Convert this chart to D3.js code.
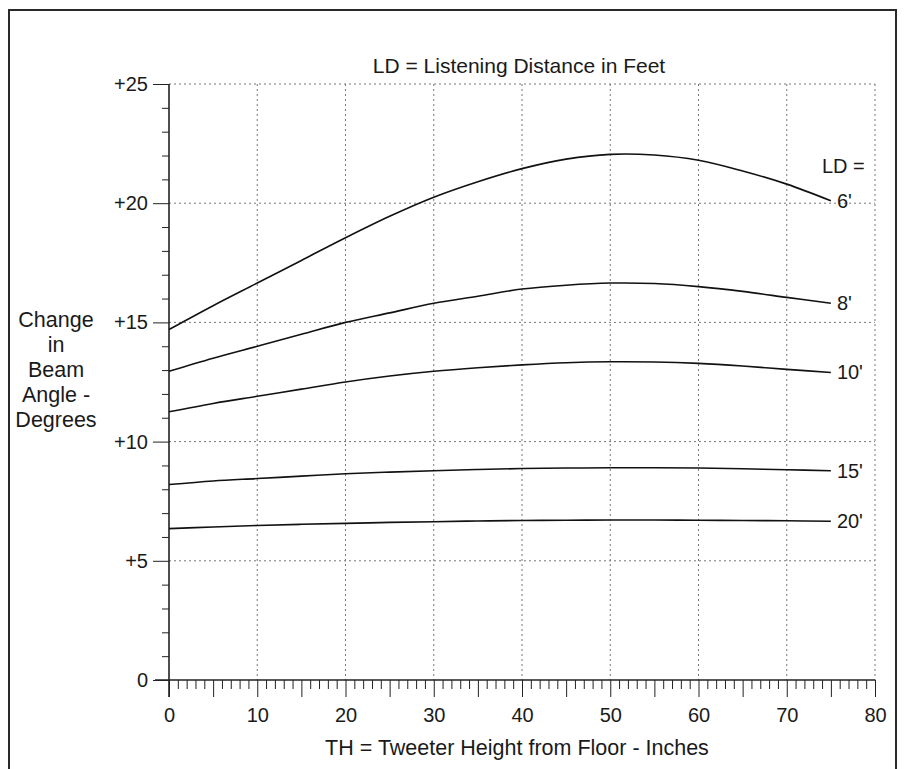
<!DOCTYPE html>
<html>
<head>
<meta charset="utf-8">
<script src="https://cdn.jsdelivr.net/npm/d3@7"></script>
<style>
  html, body { margin: 0; padding: 0; background: #fff; }
  svg { display: block; }
  text { font-family: "Liberation Sans", Arial, sans-serif; fill: #1a1a1a; }
</style>
</head>
<body>
<svg id="chart" width="906" height="769"></svg>
<script>
// ---- data ----
const tweeterHeights = [0, 5, 10, 15, 20, 25, 30, 35, 40, 45, 50, 55, 60, 65, 70, 75];
const seriesNames = ["6'", "8'", "10'", "15'", "20'"];
const ld6  = [14.7, 15.7, 16.65, 17.6, 18.55, 19.45, 20.25, 20.9, 21.45, 21.85, 22.05, 22.02, 21.8, 21.35, 20.8, 20.1];
const ld8  = [12.95, 13.5, 14.0, 14.5, 15.0, 15.4, 15.8, 16.1, 16.4, 16.56, 16.65, 16.63, 16.5, 16.3, 16.05, 15.8];
const ld10 = [11.25, 11.6, 11.9, 12.2, 12.5, 12.75, 12.95, 13.1, 13.22, 13.31, 13.35, 13.34, 13.28, 13.17, 13.03, 12.9];
const ld15 = [8.2, 8.35, 8.45, 8.55, 8.65, 8.72, 8.78, 8.83, 8.87, 8.89, 8.9, 8.9, 8.89, 8.86, 8.82, 8.78];
const ld20 = [6.35, 6.42, 6.48, 6.53, 6.57, 6.61, 6.64, 6.67, 6.69, 6.7, 6.71, 6.71, 6.7, 6.69, 6.68, 6.66];
const seriesValues = [ld6, ld8, ld10, ld15, ld20];
const xTickValues = [0, 10, 20, 30, 40, 50, 60, 70, 80];
const yTickValues = [0, 5, 10, 15, 20, 25];
const yTickLabels = ["0", "+5", "+10", "+15", "+20", "+25"];
const chartTitle = "LD = Listening Distance in Feet";
const xTitle = "TH = Tweeter Height from Floor - Inches";
const yTitleLines = ["Change", "in", "Beam", "Angle -", "Degrees"];
const legendHeader = "LD =";

// ---- layout ----
const svg = d3.select("#chart");
const x = d3.scaleLinear().domain([0, 80]).range([169, 875]);
const y = d3.scaleLinear().domain([0, 25]).range([680, 84]);

// outer frame (open at the bottom)
svg.append("path")
  .attr("d", "M9,769 L9,10 L896,10 L896,769")
  .attr("fill", "none").attr("stroke", "#2a2a2a").attr("stroke-width", 2);

// grid
const grid = svg.append("g").attr("stroke", "#777").attr("stroke-width", 1)
  .attr("stroke-dasharray", "2,3").attr("fill", "none");
grid.selectAll("line.v").data(xTickValues.filter(d => d > 0)).join("line")
  .attr("x1", d => x(d)).attr("x2", d => x(d))
  .attr("y1", y(25)).attr("y2", y(0));
grid.selectAll("line.h").data(yTickValues.filter(d => d > 0)).join("line")
  .attr("x1", x(0)).attr("x2", x(80))
  .attr("y1", d => y(d)).attr("y2", d => y(d));

// x axis
const xMinor = d3.range(0, 81, 1);
const xAxisG = svg.append("g").attr("transform", `translate(0,${y(0)})`);
xAxisG.call(d3.axisBottom(x).tickValues(xMinor).tickSize(10).tickFormat(""));
xAxisG.select(".domain").remove();
xAxisG.selectAll(".tick line").attr("stroke", "#222")
  .attr("y2", d => (d % 5 === 0 ? 17 : 9));
xAxisG.append("line").attr("x1", 155).attr("x2", x(80)).attr("y1", 0).attr("y2", 0)
  .attr("stroke", "#222").attr("stroke-width", 1.3);
const xLab = svg.append("g").attr("transform", `translate(0,${y(0)})`);
xLab.call(d3.axisBottom(x).tickValues(xTickValues).tickSize(0).tickPadding(34)
  .tickFormat(d3.format("d")));
xLab.select(".domain").remove();
xLab.selectAll("text").attr("font-size", 20).attr("font-family", "Liberation Sans, Arial, sans-serif")
  .attr("fill", "#1a1a1a").attr("dy", "0").attr("y", 42);

// y axis
const yMinor = d3.range(0, 26, 1);
const yAxisG = svg.append("g").attr("transform", `translate(${x(0)},0)`);
yAxisG.call(d3.axisLeft(y).tickValues(yMinor).tickSize(7).tickFormat(""));
yAxisG.select(".domain").remove();
yAxisG.selectAll(".tick line").attr("stroke", "#222")
  .attr("x2", d => (d % 5 === 0 ? -16 : -7));
yAxisG.append("line").attr("x1", 0).attr("x2", 0).attr("y1", y(25)).attr("y2", y(0) + 17)
  .attr("stroke", "#222").attr("stroke-width", 1.6);
const yLab = svg.append("g").attr("transform", `translate(${x(0)},0)`);
yLab.call(d3.axisLeft(y).tickValues(yTickValues).tickSize(0).tickPadding(21)
  .tickFormat((d, i) => yTickLabels[i]));
yLab.select(".domain").remove();
yLab.selectAll("text").attr("font-size", 20).attr("font-family", "Liberation Sans, Arial, sans-serif")
  .attr("fill", "#1a1a1a");

// curves
const line = d3.line()
  .x((d, i) => x(tweeterHeights[i]))
  .y(d => y(d))
  .curve(d3.curveCatmullRom.alpha(0.5));
svg.append("g").selectAll("path").data(seriesValues).join("path")
  .attr("d", line).attr("fill", "none").attr("stroke", "#111").attr("stroke-width", 1.6);

// series labels
svg.append("g").selectAll("text").data(seriesValues).join("text")
  .attr("x", x(75) + 6)
  .attr("y", d => y(d[d.length - 1]) + 7)
  .attr("font-size", 20)
  .text((d, i) => seriesNames[i]);
svg.append("text").attr("x", 822).attr("y", 173).attr("font-size", 20).text(legendHeader);

// titles
svg.append("text").attr("x", 519).attr("y", 73).attr("text-anchor", "middle")
  .attr("font-size", 21).text(chartTitle);
svg.append("text").attr("x", 517).attr("y", 755).attr("text-anchor", "middle")
  .attr("font-size", 21.5).text(xTitle);
svg.append("g").selectAll("text").data(yTitleLines).join("text")
  .attr("x", 56).attr("y", (d, i) => 327 + i * 25)
  .attr("text-anchor", "middle").attr("font-size", 21.5).text(d => d);
</script>
</body>
</html>
